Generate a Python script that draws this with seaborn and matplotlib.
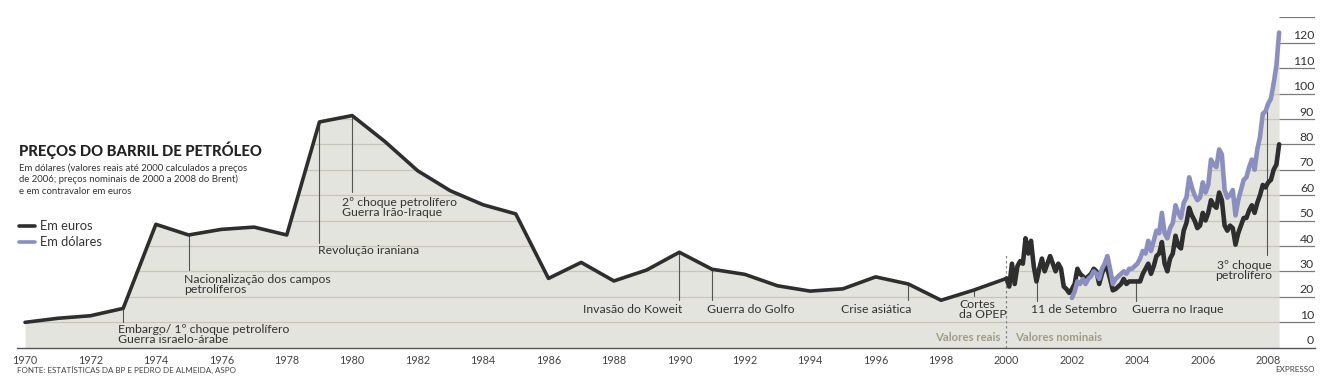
import numpy as np
import matplotlib
matplotlib.use('Agg')
import matplotlib.pyplot as plt
from matplotlib.lines import Line2D
import seaborn as sns

# valores reais anuais (dólares de 2006), 1970-1999
anos = list(range(1970, 2000))
preco_real = [9.9, 11.5, 12.5, 15.4, 48.5, 44.3, 46.5, 47.4, 44.3, 88.8,
              91.3, 81.1, 69.6, 61.7, 56.2, 52.6, 27.2, 33.5, 26.2, 30.5,
              37.5, 30.8, 28.8, 24.3, 22.2, 23.1, 27.8, 25.0, 18.6, 22.6]

# valores nominais mensais em euros, jan 2000 - mai 2008
euros = [27.2, 24, 33, 25, 32, 34, 33, 43, 37, 42, 32, 26,
         31, 35, 30, 33, 36, 33, 30, 33, 31, 24, 23, 21.5,
         23, 25, 31, 29, 28, 27, 28, 29, 31, 30, 25, 29,
         32, 31, 27, 22.5, 23, 24, 25, 27, 25, 26, 26, 26,
         26, 26, 29, 31, 33, 29, 32, 36, 37, 41.5, 33, 30,
         35, 37, 44, 40, 39, 46, 49, 55, 52, 50, 47, 48,
         53, 50, 53, 58, 56, 55, 61, 58, 48, 46, 48, 47,
         40.5, 45, 48, 51, 51, 54, 56, 53, 57, 60, 64, 63,
         65, 66, 70, 72, 80]

# valores nominais mensais em dólares (Brent), jan 2002 - mai 2008
dolares = [19.5, 22, 26, 25, 27, 25, 27, 28, 30, 29, 27, 31,
           33, 36, 31, 25, 27, 28, 29, 30, 29, 31, 31, 32,
           33, 35, 38, 37, 42, 38, 42, 46, 45, 53, 45, 43,
           47, 49, 56, 53, 51, 57, 59, 67, 63, 60, 58, 59,
           65, 61, 64, 74, 72, 71, 78, 76, 62, 59, 60, 62,
           52, 58, 62, 66, 67, 71, 74, 70, 78, 83, 92, 93,
           96, 98, 104, 111, 124]

# acontecimentos: (texto, x do texto, y do texto, alinhamento, x da linha, y topo, y fim)
eventos = [
    ('Embargo/ 1º choque petrolífero\nGuerra israelo-árabe', 1972.84, 5.1, 'left', 1973, 15.4, 10.0),
    ('Nacionalização dos campos\npetrolíferos', 1974.86, 24.8, 'left', 1975, 44.3, 30.5),
    ('Revolução iraniana', 1978.95, 38.0, 'left', 1979, 88.8, 41.1),
    ('2º choque petrolífero\nGuerra Irão-Iraque', 1979.69, 55.1, 'left', 1980, 91.3, 61.2),
    ('Invasão do Koweit', 1990.1, 14.8, 'right', 1990, 37.5, 18.7),
    ('Guerra do Golfo', 1990.84, 14.8, 'left', 1991, 30.8, 18.7),
    ('Crise asiática', 1997.08, 14.8, 'right', 1997, 25.0, 18.7),
    ('Cortes\nda OPEP', 1998.56, 15.0, 'left', 1999, 22.6, 20.3),
    ('11 de Setembro', 2000.75, 14.8, 'left', 2000.92, 30.0, 18.5),
    ('Guerra no Iraque', 2003.83, 14.8, 'left', 2003.95, 25.5, 18.5),
    ('3º choque\npetrolífero', 2008.11, 30.4, 'right', 2007.96, 93.0, 36.4),
]

sns.set_style('white')
plt.rcParams['font.family'] = ['Lato', 'DejaVu Sans']

preto = '#2e2e2e'
azul = '#8a8fc0'
fundo = '#e4e4de'
texto = '#333333'

t_euros = 2000 + np.arange(len(euros)) / 12
t_dolares = 2002 + np.arange(len(dolares)) / 12

x_linha = np.concatenate([anos, t_euros])
y_linha = np.concatenate([preco_real, euros])

# área cinzenta até à curva mais alta
topo = np.array(euros, dtype=float)
topo[24:] = np.maximum(topo[24:], dolares)
y_fill = np.concatenate([preco_real, topo])

fig = plt.figure(figsize=(13.33, 3.91), dpi=100)
ax = fig.add_axes([17 / 1333, 1 - 347.5 / 391, 1298 / 1333, 330.2 / 391])
xmin, xmax = 1969.755, 2009.43
ax.set_xlim(xmin, xmax)
ax.set_ylim(0, 130)

poly = ax.fill_between(x_linha, 0, y_fill, color=fundo, lw=0, zorder=1)
clip = poly.get_paths()[0]
for v in range(10, 130, 10):
    ln = ax.axhline(v, color='#c6c6bd', lw=0.9, zorder=1.5)
    ln.set_clip_path(clip, ax.transData)

# grelha e escala à direita
ax.hlines(list(range(10, 140, 10)), x_linha[-1], xmax, color='#7a7a7a', lw=0.9, zorder=2)
for v in range(0, 130, 10):
    ax.text(xmax - 0.03, v + 1.3, str(v), ha='right', va='baseline',
            fontsize=8.8, color=texto)

# linha anual (até 2000) e séries mensais
sns.lineplot(x=x_linha[:31], y=y_linha[:31], ax=ax, color=preto, lw=2.6, sort=False,
             estimator=None, zorder=4)
sns.lineplot(x=t_euros, y=euros, ax=ax, color=preto, lw=3.3, sort=False,
             estimator=None, zorder=4)
sns.lineplot(x=t_dolares, y=dolares, ax=ax, color=azul, lw=3.3, sort=False,
             estimator=None, zorder=5)

# separação valores reais / nominais
ax.plot([2000, 2000], [0, 36.4], color='#888888', lw=0.9, ls=(0, (2, 2)), zorder=3)
ax.text(1999.8, 3.9, 'Valores reais', ha='right', va='center', fontsize=8.2,
        color='#9d9d8a', fontweight='bold')
ax.text(2000.26, 3.9, 'Valores nominais', ha='left', va='center', fontsize=8.2,
        color='#9d9d8a', fontweight='bold')

for txt, tx, ty, ha, lx, y0, y1 in eventos:
    ax.plot([lx, lx], [y0, y1], color='#555555', lw=0.8, zorder=3)
    ax.text(tx, ty, txt, ha=ha, va='center', fontsize=8.8, color=texto,
            linespacing=0.95, zorder=6)

ax.set_xticks(range(1970, 2009, 2))
ax.set_xticks(range(1971, 2009, 2), minor=True)
ax.set_yticks([])
ax.tick_params(axis='x', which='both', direction='out', length=4, width=0.8,
               color='#555555', labelsize=7.8, labelcolor='#444444', pad=1.5)
ax.set_xlabel('')
ax.set_ylabel('')
sns.despine(ax=ax, left=True, top=True, right=True)
ax.spines['bottom'].set_color('#555555')
ax.spines['bottom'].set_linewidth(1.0)

# título, subtítulo e legenda
fig.text(19 / 1333, 1 - 150 / 391, 'PREÇOS DO BARRIL DE PETRÓLEO', fontsize=10.7,
         fontweight='black', color='#222222', va='center')
sub = ['Em dólares (valores reais até 2000 calculados a preços',
       'de 2006; preços nominais de 2000 a 2008 do Brent)',
       'e em contravalor em euros']
for i, s in enumerate(sub):
    fig.text(19 / 1333, 1 - (168 + 11.5 * i) / 391, s, fontsize=6.9, color=texto, va='center')

for i, (nome, cor) in enumerate([('Em euros', preto), ('Em dólares', azul)]):
    yy = 1 - (226 + 15.5 * i) / 391
    fig.add_artist(Line2D([19 / 1333, 35 / 1333], [yy, yy], color=cor, lw=2.6,
                          transform=fig.transFigure))
    fig.text(40 / 1333, yy, nome, fontsize=9.3, color=texto, va='center')

fig.text(17 / 1333, 1 - 370 / 391, 'FONTE: ESTATÍSTICAS DA BP E PEDRO DE ALMEIDA, ASPO',
         fontsize=5.8, color='#444444', va='center')
fig.text(1315 / 1333, 1 - 370 / 391, 'EXPRESSO', fontsize=5.8, color='#444444',
         va='center', ha='right')

fig.savefig('out.png', dpi=100, facecolor='white')
